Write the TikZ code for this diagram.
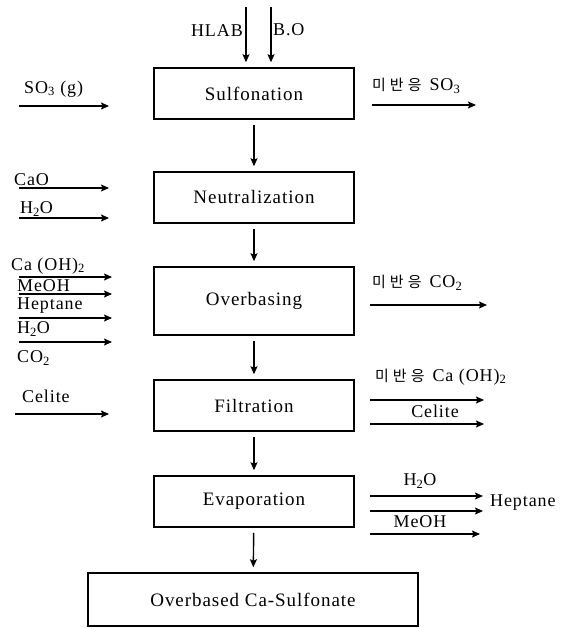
\documentclass[tikz,border=0pt]{standalone}
\usepackage{fontspec}
\setmainfont{Liberation Serif}[LetterSpace=5]
\newfontfamily\kr{Noto Sans CJK KR}
\usetikzlibrary{arrows.meta}
\tikzset{
  proc/.style={draw, line width=1.5pt, minimum width=200pt, minimum height=51pt, inner sep=0pt, font=\fontsize{19}{21}\selectfont},
  lbl/.style={inner sep=0pt, font=\fontsize{18}{20}\selectfont},
  krl/.style={inner sep=0pt, font=\fontsize{18}{20}\selectfont},
  flow/.style={line width=1.4pt, -{Stealth[length=8pt,width=7pt,inset=1.5pt]}},
}
\newcommand{\mibanung}{{\kr\fontsize{15}{17}\selectfont 미\hspace{4pt}반\hspace{4pt}응}\hspace{8pt}}
\begin{document}
\begin{tikzpicture}[x=1pt,y=-1pt]
\useasboundingbox (0,0) rectangle (562,628);
% process boxes
\node[proc] (sulf) at (254,93.5) {Sulfonation};
\node[proc] (neut) at (254,197.5) {Neutralization};
\node[proc, minimum height=68pt] (overb) at (254,301) {Overbasing};
\node[proc] (filt) at (254,405.5) {Filtration};
\node[proc] (evap) at (254,501.5) {Evaporation};
\node[proc, minimum width=330pt, minimum height=53pt] (final) at (253,599.5) {Overbased Ca-Sulfonate};
% main vertical flow
\draw[flow, shorten <=5pt, shorten >=5pt] (sulf) -- (neut);
\draw[flow, shorten <=5pt, shorten >=5pt] (neut) -- (overb);
\draw[flow, shorten <=5pt, shorten >=5pt] (overb) -- (filt);
\draw[flow, shorten <=5pt, shorten >=5pt] (filt) -- (evap);
\draw[flow, shorten <=5pt, shorten >=5pt] (evap) -- (final);
% top feeds
\coordinate (hlabs) at (246,7);
\coordinate (bos) at (271,7);
\draw[flow, shorten >=5pt] (hlabs) -- (hlabs |- sulf.north);
\draw[flow, shorten >=5pt] (bos) -- (bos |- sulf.north);
\node[lbl, anchor=east] (hlab) at (243,31) {HLAB};
\node[lbl, anchor=west] (bo) at (273,30) {B.O};
% sulfonation side streams
\coordinate (so3a) at (19,106); \coordinate (so3b) at (109,106);
\draw[flow] (so3a) -- (so3b);
\node[lbl, anchor=west] (so3) at (24,89) {SO\textsubscript{3} (g)};
\coordinate (so3oa) at (372,105); \coordinate (so3ob) at (476,105);
\draw[flow] (so3oa) -- (so3ob);
\node[krl, anchor=west] (so3o) at (372,86) {\mibanung SO\textsubscript{3}};
% neutralization feeds
\coordinate (caoa) at (19,188); \coordinate (caob) at (109,188);
\draw[flow] (caoa) -- (caob);
\node[lbl, anchor=west] (cao) at (14,180) {CaO};
\coordinate (h2oa) at (19,218); \coordinate (h2ob) at (109,218);
\draw[flow] (h2oa) -- (h2ob);
\node[lbl, anchor=west] (h2o) at (20,209) {H\textsubscript{2}O};
% overbasing feeds
\foreach \yy/\nm in {277/oa, 294/ob, 318/oc, 342/od}{
  \coordinate (\nm s) at (19,\yy); \coordinate (\nm e) at (112,\yy);
  \draw[flow] (\nm s) -- (\nm e);
}
\node[lbl, anchor=west] (caoh) at (11,266) {Ca (OH)\textsubscript{2}};
\node[lbl, anchor=west] (meoh) at (17,286) {MeOH};
\node[lbl, anchor=west] (hept) at (17,306) {Heptane};
\node[lbl, anchor=west] (h2ob2) at (17,329) {H\textsubscript{2}O};
\node[lbl, anchor=west] (co2) at (17,358) {CO\textsubscript{2}};
% overbasing output
\coordinate (co2oa) at (370,305); \coordinate (co2ob) at (487,305);
\draw[flow] (co2oa) -- (co2ob);
\node[krl, anchor=west] (co2o) at (372,283) {\mibanung CO\textsubscript{2}};
% filtration
\coordinate (cela) at (15,414); \coordinate (celb) at (109,414);
\draw[flow] (cela) -- (celb);
\node[lbl, anchor=west] (cel) at (22,396) {Celite};
\coordinate (fa1) at (370,400); \coordinate (fb1) at (484,400);
\draw[flow] (fa1) -- (fb1);
\coordinate (fa2) at (370,424); \coordinate (fb2) at (484,424);
\draw[flow] (fa2) -- (fb2);
\node[krl, anchor=west] (caoho) at (375,377) {\mibanung Ca (OH)\textsubscript{2}};
\node[lbl] (celo) at (435,411) {Celite};
% evaporation
\coordinate (ea1) at (370,496); \coordinate (eb1) at (483,496);
\draw[flow] (ea1) -- (eb1);
\coordinate (ea2) at (370,511); \coordinate (eb2) at (483,511);
\draw[flow] (ea2) -- (eb2);
\coordinate (ea3) at (370,534); \coordinate (eb3) at (480,534);
\draw[flow] (ea3) -- (eb3);
\node[lbl] (h2oo) at (420,481) {H\textsubscript{2}O};
\node[lbl] (meoho) at (420,522) {MeOH};
\node[lbl, anchor=west] (hepto) at (490,503) {Heptane};
\end{tikzpicture}
\end{document}
